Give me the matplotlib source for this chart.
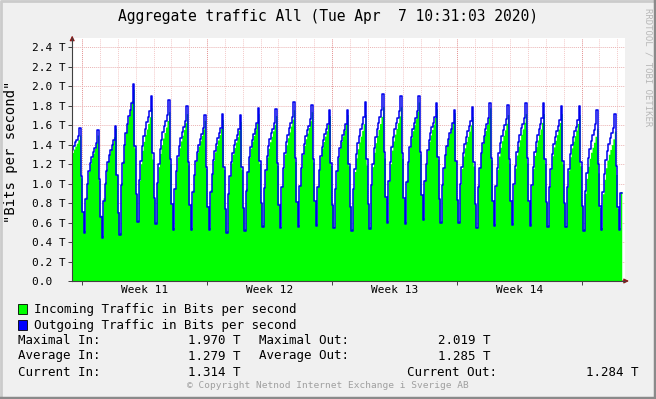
import numpy as np
import pandas as pd
import matplotlib
matplotlib.use("Agg")
import matplotlib.pyplot as plt
import matplotlib.dates as mdates
from matplotlib.lines import Line2D

W, H = 656, 399
MONO = "DejaVu Sans Mono"

# evening peaks per day (T), Sat 7 Mar .. Mon 6 Apr 2020
peak_in = [1.50, 1.50, 1.57, 1.97, 1.78, 1.74, 1.72, 1.65, 1.66, 1.64, 1.72,
           1.70, 1.76, 1.74, 1.70, 1.71, 1.71, 1.79, 1.79, 1.84, 1.77, 1.73,
           1.69, 1.78, 1.71, 1.72, 1.72, 1.72, 1.71, 1.57, 1.54]
peak_out = [1.57, 1.55, 1.59, 2.02, 1.90, 1.86, 1.80, 1.71, 1.72, 1.71, 1.78,
            1.77, 1.84, 1.81, 1.76, 1.76, 1.84, 1.92, 1.90, 1.90, 1.83, 1.76,
            1.79, 1.83, 1.81, 1.83, 1.83, 1.80, 1.80, 1.76, 1.72]
# night troughs following each peak (T)
trough_in = [0.52, 0.47, 0.50, 0.63, 0.61, 0.55, 0.55, 0.55, 0.52, 0.54, 0.58,
             0.56, 0.58, 0.59, 0.56, 0.54, 0.56, 0.62, 0.61, 0.65, 0.62, 0.62,
             0.56, 0.59, 0.60, 0.59, 0.58, 0.57, 0.54, 0.55, 0.55]
trough_out = [0.49, 0.44, 0.47, 0.61, 0.59, 0.52, 0.52, 0.52, 0.49, 0.51, 0.56,
              0.54, 0.56, 0.57, 0.54, 0.51, 0.53, 0.60, 0.59, 0.63, 0.60, 0.60,
              0.54, 0.57, 0.58, 0.57, 0.56, 0.55, 0.51, 0.52, 0.52]
# shape of one day in 2h steps: rising 04:00..20:00, falling 22:00..02:00
rise_in = [0.35, 0.50, 0.62, 0.70, 0.76, 0.81, 0.86, 0.92, 1.00]
rise_out = [0.33, 0.48, 0.60, 0.68, 0.74, 0.79, 0.83, 0.88, 1.00]
fall = [0.55, 0.20, 0.00]
trough_before = (0.90, 0.88)   # night before the window (in, out)
last_value = (0.92, 0.90)      # Tue 7 Apr 04:00 (in, out)

week_labels = ["Week 11", "Week 12", "Week 13", "Week 14"]
y_ticks = [0.0, 0.2, 0.4, 0.6, 0.8, 1.0, 1.2, 1.4, 1.6, 1.8, 2.0, 2.2, 2.4]

stats = [("Maximal In:", "1.970 T", "Maximal Out:", "2.019 T"),
         ("Average In:", "1.279 T", "Average Out:", "1.285 T"),
         ("Current In:", "1.314 T", "Current Out:", "1.284 T")]


def build(peaks, troughs, rise, prev, last):
    vals = []
    for k, p in enumerate(peaks):
        vals += [prev + r * (p - prev) for r in rise]
        t = troughs[k]
        vals += [t + f * (p - t) for f in fall]
        prev = t
    vals.append(last)
    vals.append(last)
    return np.array(vals)


v_in = build(peak_in, trough_in, rise_in, trough_before[0], last_value[0])
v_out = build(peak_out, trough_out, rise_out, trough_before[1], last_value[1])
times = pd.date_range("2020-03-07 04:00", periods=len(v_in), freq="2h")
x = mdates.date2num(times.to_pydatetime())

t0 = pd.Timestamp("2020-03-07 10:31:03")
t1 = pd.Timestamp("2020-04-07 10:31:03")


def fx(px):
    return px / W


def fy(py):
    return 1 - py / H


fig = plt.figure(figsize=(W / 100, H / 100), dpi=100, facecolor="#f0f0f0")
ax = fig.add_axes([fx(72.2), fy(281), fx(625.1) - fx(72.2), fy(37.7) - fy(281)])
ax.set_facecolor("white")

ax.fill_between(x, v_in, step="post", color="#00ff00", lw=0, zorder=2)
ax.step(x, v_out, where="post", color="#0000ee", lw=1.1, zorder=3)

ax.set_xlim(mdates.date2num(t0), mdates.date2num(t1))
ax.set_ylim(0, 2.5)

# grid: daily minor, weekly major (weeks start on Sunday)
for d in pd.date_range("2020-03-08", "2020-04-07", freq="D"):
    major = d.dayofweek == 6
    ax.axvline(mdates.date2num(d), color="#e39090" if major else "#f3caca",
               lw=0.7, ls=(0, (1, 1)), zorder=1)
for v in y_ticks[1:]:
    ax.axhline(v, color="#eab4b4", lw=0.7, ls=(0, (1, 1)), zorder=1)

for s in ["top", "right"]:
    ax.spines[s].set_visible(False)
for s in ["left", "bottom"]:
    ax.spines[s].set_color("#404040")
    ax.spines[s].set_linewidth(0.8)
    ax.spines[s].set_zorder(4)

ax.set_yticks(y_ticks)
ax.set_yticklabels([f"{v:.1f} T" if v > 0 else "0.0  " for v in y_ticks],
                   family=MONO, fontsize=8)
ax.tick_params(axis="y", length=3, width=0.7, color="#404040", pad=2)

sundays = pd.date_range("2020-03-08", periods=5, freq="7D")
ax.set_xticks(mdates.date2num(sundays.to_pydatetime()))
ax.set_xticklabels([])
ax.tick_params(axis="x", which="major", length=3, width=0.7, color="#404040")
mids = pd.date_range("2020-03-11 12:00", periods=4, freq="7D")
ax.set_xticks(mdates.date2num(mids.to_pydatetime()), minor=True)
ax.set_xticklabels(week_labels, minor=True, family=MONO, fontsize=8)
ax.tick_params(axis="x", which="minor", length=0, pad=3)

# axis arrows
ax.annotate("", xy=(1.012, 0), xytext=(0.99, 0), xycoords="axes fraction",
            arrowprops=dict(arrowstyle="-|>", color="#8b1a1a", lw=0.8,
                            mutation_scale=7), annotation_clip=False)
ax.annotate("", xy=(0, 1.02), xytext=(0, 0.98), xycoords="axes fraction",
            arrowprops=dict(arrowstyle="-|>", color="#8b1a1a", lw=0.8,
                            mutation_scale=7), annotation_clip=False)

fig.text(fx(328), fy(16), "Aggregate traffic All (Tue Apr  7 10:31:03 2020)",
         family=MONO, fontsize=10.5, ha="center", va="center")
fig.text(fx(11), fy(152), '"Bits per second"', family=MONO, fontsize=10,
         rotation=90, ha="center", va="center")
fig.text(fx(648), fy(8), "RRDTOOL / TOBI OETIKER", family=MONO, fontsize=6.5,
         rotation=270, ha="center", va="top", color="#b8b8b8")

# legend
for py, col, label in [(309, "#00ff00", "Incoming Traffic in Bits per second"),
                       (325, "#0000ff", "Outgoing Traffic in Bits per second")]:
    fig.patches.append(plt.Rectangle((fx(18), fy(py + 5)), fx(9), fy(py - 5) - fy(py + 5),
                                     transform=fig.transFigure, facecolor=col,
                                     edgecolor="black", lw=0.6))
    fig.text(fx(34), fy(py), label, family=MONO, fontsize=9, va="center")

for i, (a, b, c, d) in enumerate(stats):
    py = 340 + 16 * i
    fig.text(fx(18), fy(py), a, family=MONO, fontsize=9, va="center")
    fig.text(fx(241), fy(py), b, family=MONO, fontsize=9, va="center", ha="right")
    if i < 2:
        fig.text(fx(259), fy(py), c, family=MONO, fontsize=9, va="center")
        fig.text(fx(490), fy(py), d, family=MONO, fontsize=9, va="center", ha="right")
    else:
        fig.text(fx(407), fy(py), c, family=MONO, fontsize=9, va="center")
        fig.text(fx(638), fy(py), d, family=MONO, fontsize=9, va="center", ha="right")

fig.text(fx(328), fy(386), "\u00a9 Copyright Netnod Internet Exchange i Sverige AB",
         family=MONO, fontsize=6.8, ha="center", va="center", color="#a0a0a0")

# 3d frame around the canvas
fig.add_artist(Line2D([0.001, 0.001, 0.999], [0.002, 0.998, 0.998],
                      transform=fig.transFigure, color="#cbcbcb", lw=2))
fig.add_artist(Line2D([0.001, 0.999, 0.999], [0.002, 0.002, 0.998],
                      transform=fig.transFigure, color="#8a8a8a", lw=2.5))

fig.savefig("out.png", dpi=100, facecolor=fig.get_facecolor())
